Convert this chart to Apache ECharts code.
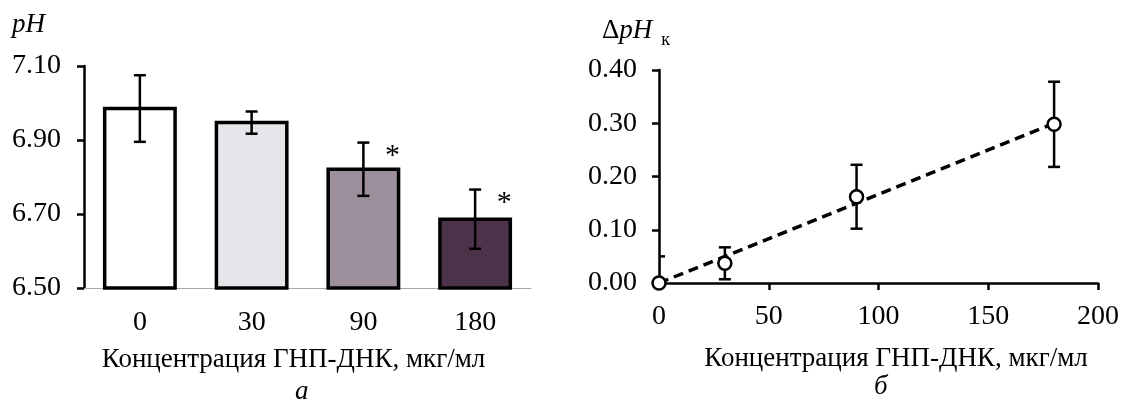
<!DOCTYPE html>
<html>
<head>
    <meta charset="utf-8">
</head>
<body style="margin: 0; background: #fff">
    <div id="container" style="width: 1145px; height: 401px"></div>

    <script src="https://cdn.jsdelivr.net/npm/echarts@6/dist/echarts.min.js"></script>
    <script type="text/javascript">
        // panel a: pH vs concentration (bars)
        var concLabels = ['0', '30', '90', '180'];
        var phMean = [6.985, 6.947, 6.821, 6.686];
        var phErr = [0.09, 0.03, 0.072, 0.08];
        var phStar = ['', '', '*', '*'];
        var barColors = ['#ffffff', '#e7e5e9', '#9e8f9c', '#4c3349'];

        // panel b: delta pH vs concentration
        var dConc = [0, 30, 90, 180];
        var dPh = [0, 0.037, 0.162, 0.298];
        var dErr = [0.05, 0.03, 0.06, 0.08];
        var trend = [[0, 0], [180, 0.30]];

        var FONT = "'Liberation Serif', 'Times New Roman', serif";
        var FS = 27;   // names
        var TS = 28;   // tick labels

        var dom = document.getElementById('container');
        var myChart = echarts.init(dom);

        function errGroup(hi, lo, hw) {
            var st = { stroke: '#000', lineWidth: 2.5 };
            return [
                { type: 'line', shape: { x1: hi[0], y1: hi[1], x2: lo[0], y2: lo[1] }, style: st },
                { type: 'line', shape: { x1: hi[0] - hw, y1: hi[1], x2: hi[0] + hw, y2: hi[1] }, style: st },
                { type: 'line', shape: { x1: lo[0] - hw, y1: lo[1], x2: lo[0] + hw, y2: lo[1] }, style: st }
            ];
        }

        var option = {
            animation: false,
            textStyle: { fontFamily: FONT },
            grid: [
                { left: 84, top: 66, width: 447, height: 222 },
                { left: 659, top: 70, width: 439, height: 213 }
            ],
            xAxis: [
                {
                    gridIndex: 0,
                    type: 'category',
                    data: concLabels,
                    axisLine: { lineStyle: { color: '#a6a6a6', width: 1 } },
                    axisTick: { length: 6, lineStyle: { color: '#a6a6a6' } },
                    axisLabel: { color: '#000', fontSize: TS, fontFamily: FONT, margin: 21 },
                    name: 'Концентрация ГНП-ДНК, мкг/мл',
                    nameLocation: 'middle',
                    nameGap: 58,
                    nameTextStyle: { color: '#000', fontSize: FS, fontFamily: FONT, padding: [0, 28, 0, 0] }
                },
                {
                    gridIndex: 1,
                    type: 'value',
                    min: 0, max: 200, interval: 50,
                    splitLine: { show: false },
                    axisLine: { lineStyle: { color: '#000', width: 2.5 } },
                    axisTick: { length: 7, lineStyle: { color: '#000', width: 2.5 } },
                    axisLabel: { color: '#000', fontSize: TS, fontFamily: FONT, margin: 20 },
                    name: 'Концентрация ГНП-ДНК, мкг/мл',
                    nameLocation: 'middle',
                    nameGap: 62,
                    nameTextStyle: { color: '#000', fontSize: FS, fontFamily: FONT, padding: [0, 0, 0, 35] }
                }
            ],
            yAxis: [
                {
                    gridIndex: 0,
                    type: 'value',
                    min: 6.5, max: 7.1, interval: 0.2,
                    splitLine: { show: false },
                    axisLine: { show: true, lineStyle: { color: '#000', width: 2.5 } },
                    axisTick: { show: true, length: 7, lineStyle: { color: '#000', width: 2.5 } },
                    axisLabel: {
                        color: '#000', fontSize: TS, fontFamily: FONT, margin: 23,
                        formatter: function (v) { return v.toFixed(2); }
                    }
                },
                {
                    gridIndex: 1,
                    type: 'value',
                    min: 0, max: 0.4, interval: 0.1,
                    splitLine: { show: false },
                    axisLine: { show: true, lineStyle: { color: '#000', width: 2.5 } },
                    axisTick: { show: true, length: 7, lineStyle: { color: '#000', width: 2.5 } },
                    axisLabel: {
                        color: '#000', fontSize: TS, fontFamily: FONT, margin: 22,
                        formatter: function (v) { return v.toFixed(2); }
                    }
                }
            ],
            series: [
                {
                    // bars drawn from 6.50 up
                    type: 'custom',
                    xAxisIndex: 0, yAxisIndex: 0,
                    data: phMean.map(function (v, i) { return [i, v]; }),
                    renderItem: function (params, api) {
                        var i = api.value(0);
                        var top = api.coord([i, api.value(1)]);
                        var base = api.coord([i, 6.5]);
                        var w = api.size([1, 0])[0] * 0.63;
                        return {
                            type: 'rect',
                            shape: { x: top[0] - w / 2, y: top[1], width: w, height: base[1] - top[1] },
                            style: { fill: barColors[i], stroke: '#000', lineWidth: 3.5 }
                        };
                    }
                },
                {
                    type: 'custom',
                    xAxisIndex: 0, yAxisIndex: 0,
                    z: 3,
                    data: phMean.map(function (v, i) { return [i, v, phErr[i]]; }),
                    renderItem: function (params, api) {
                        var x = api.value(0), y = api.value(1), e = api.value(2);
                        var hi = api.coord([x, y + e]);
                        var lo = api.coord([x, y - e]);
                        var ch = errGroup(hi, lo, 6);
                        if (phStar[params.dataIndex]) {
                            ch.push({
                                type: 'text',
                                style: {
                                    text: phStar[params.dataIndex], x: hi[0] + 29, y: hi[1] + 14,
                                    fill: '#000', font: '30px ' + FONT,
                                    textAlign: 'center', textVerticalAlign: 'middle'
                                }
                            });
                        }
                        return { type: 'group', children: ch };
                    }
                },
                {
                    type: 'line',
                    xAxisIndex: 1, yAxisIndex: 1,
                    data: trend,
                    showSymbol: false,
                    lineStyle: { color: '#000', width: 3.5, type: [10, 6] },
                    z: 2
                },
                {
                    type: 'custom',
                    xAxisIndex: 1, yAxisIndex: 1,
                    clip: true,
                    z: 3,
                    data: dConc.map(function (c, i) { return [c, dPh[i], dErr[i]]; }),
                    renderItem: function (params, api) {
                        var x = api.value(0), y = api.value(1), e = api.value(2);
                        var hi = api.coord([x, y + e]);
                        var lo = api.coord([x, y - e]);
                        return { type: 'group', children: errGroup(hi, lo, 6) };
                    }
                },
                {
                    type: 'scatter',
                    xAxisIndex: 1, yAxisIndex: 1,
                    data: dConc.map(function (c, i) { return [c, dPh[i]]; }),
                    symbol: 'circle',
                    symbolSize: 13,
                    itemStyle: { color: '#fff', borderColor: '#000', borderWidth: 2.5, opacity: 1 },
                    z: 4
                }
            ],
            graphic: [
                {
                    type: 'text', left: 12, top: 11,
                    style: { text: 'pH', font: 'italic ' + FS + 'px ' + FONT, fill: '#000' }
                },
                {
                    type: 'text', left: 602, top: 17,
                    style: {
                        text: '{a|Δ}{b|pH}{c|  к}',
                        rich: {
                            a: { font: FS + 'px ' + FONT, fill: '#000', verticalAlign: 'bottom' },
                            b: { font: 'italic ' + FS + 'px ' + FONT, fill: '#000', verticalAlign: 'bottom' },
                            c: { font: '18px ' + FONT, fill: '#000', verticalAlign: 'bottom', padding: [0, 0, -5, 0] }
                        }
                    }
                },
                {
                    type: 'text', left: 295, top: 378,
                    style: { text: 'а', font: 'italic ' + FS + 'px ' + FONT, fill: '#000' }
                },
                {
                    type: 'text', left: 874, top: 373,
                    style: { text: 'б', font: 'italic ' + FS + 'px ' + FONT, fill: '#000' }
                }
            ]
        };

        myChart.setOption(option);
    </script>
</body>
</html>
